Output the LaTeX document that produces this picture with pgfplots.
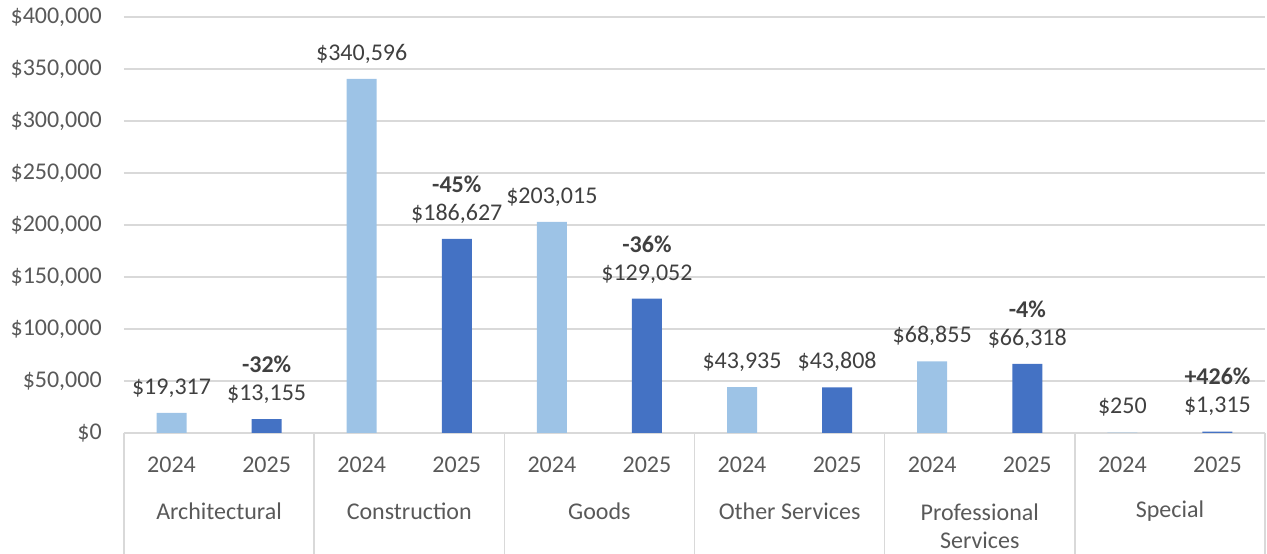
\documentclass[border=0pt]{standalone}
\usepackage{pgfplots}
\pgfplotsset{compat=1.18}
\usepackage{fontspec}
\setmainfont{Carlito}
\definecolor{lightbar}{HTML}{9DC3E6}
\definecolor{darkbar}{HTML}{4472C4}
\definecolor{axtext}{HTML}{595959}
\definecolor{lbl}{HTML}{404040}
\definecolor{gridc}{HTML}{D9D9D9}
\begin{document}
\begin{tikzpicture}
\begin{axis}[
  scale only axis, width=856pt, height=312pt,
  xmin=-0.5, xmax=11.5, ymin=0, ymax=400000,
  axis line style={draw=none},
  ytick={0,50000,100000,150000,200000,250000,300000,350000,400000},
  yticklabels={{\$0},{\$50,000},{\$100,000},{\$150,000},{\$200,000},{\$250,000},{\$300,000},{\$350,000},{\$400,000}},
  scaled y ticks=false,
  ymajorgrids, grid style={gridc, line width=1pt},
  major tick length=0pt,
  xtick={0,1,2,3,4,5,6,7,8,9,10,11},
  xticklabels={2024,2025,2024,2025,2024,2025,2024,2025,2024,2025,2024,2025},
  tick label style={text=axtext, font=\fontsize{18}{21}\selectfont},
  yticklabel style={anchor=east, inner sep=0pt, xshift=-16.5pt},
  xticklabel style={anchor=center, inner sep=0pt, yshift=-24pt},
  clip=false,
  ybar, bar width=22.5pt,
  nodes near coords, point meta=explicit symbolic,
  every node near coord/.append style={text=lbl, anchor=base, inner sep=0pt, yshift=14pt, font=\fontsize{18}{21}\selectfont},
]
\addplot[fill=lightbar, draw=none, bar shift=0pt] coordinates {
  (0,19317) [{\$19,317}]
  (2,340596) [{\$340,596}]
  (4,203015) [{\$203,015}]
  (6,43935) [{\$43,935}]
  (8,68855) [{\$68,855}]
  (10,250) [{\$250}]
};
\addplot[fill=darkbar, draw=none, bar shift=0pt] coordinates {
  (1,13155) [{\$13,155}]
  (3,186627) [{\$186,627}]
  (5,129052) [{\$129,052}]
  (7,43808) [{\$43,808}]
  (9,66318) [{\$66,318}]
  (11,1315) [{\$1,315}]
};
\addplot[fill=none, draw=none, bar shift=0pt, forget plot,
  every node near coord/.append style={yshift=21pt, font=\fontsize{18}{21}\selectfont\bfseries}] coordinates {
  (1,13155) [{-32\%}]
  (3,186627) [{-45\%}]
  (5,129052) [{-36\%}]
  (9,66318) [{-4\%}]
  (11,1315) [{+426\%}]
};
\pgfplotsinvokeforeach{-0.5,1.5,3.5,5.5,7.5,9.5,11.5}{
  \draw[gridc, line width=1pt] (axis cs:#1,0) -- ++(0pt,-90.75pt);
}
\begin{scope}[every node/.style={text=axtext, font=\fontsize{18}{21}\selectfont, align=center}]
\node at ([yshift=-58.5pt]axis cs:0.5,0) {Architectural};
\node at ([yshift=-58.5pt]axis cs:2.5,0) {Construction};
\node at ([yshift=-58.5pt]axis cs:4.5,0) {Goods};
\node at ([yshift=-58.5pt]axis cs:6.5,0) {Other Services};
\node at ([yshift=-69.75pt]axis cs:8.5,0) {Professional\\Services};
\node at ([yshift=-58.5pt]axis cs:10.5,0) {Special};
\end{scope}
\coordinate (sw) at (rel axis cs:0,0);
\coordinate (ne) at (rel axis cs:1,1);
\end{axis}
\pgfresetboundingbox
\path[use as bounding box] ([shift={(-93pt,-90.75pt)}]sw) rectangle ([shift={(1.5pt,12.75pt)}]ne);
\end{tikzpicture}
\end{document}
